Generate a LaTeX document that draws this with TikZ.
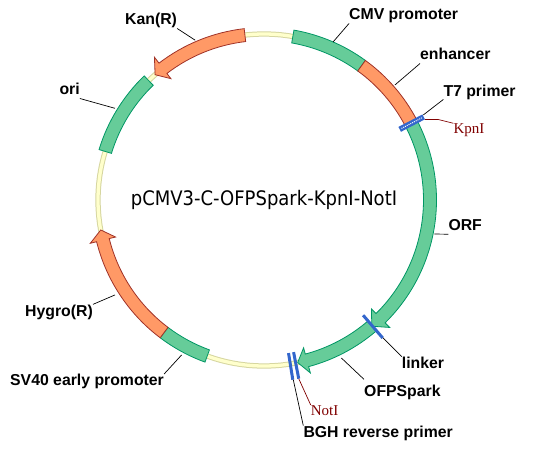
\documentclass[tikz,border=0pt]{standalone}
\usepackage{fontspec}
\usepackage{xcolor}
\usepackage{tikz}
\setmainfont{Liberation Sans}
\newfontfamily\sitefont{Liberation Serif}
\newfontfamily\titlefont{DejaVu Sans}[FakeStretch=0.9]

\definecolor{cdsgreen}{RGB}{102,204,153}
\definecolor{cdsgreenline}{RGB}{0,150,100}
\definecolor{resorange}{RGB}{255,153,102}
\definecolor{resorangeline}{RGB}{160,50,40}
\definecolor{backbonefill}{RGB}{255,255,204}
\definecolor{backboneline}{RGB}{214,214,160}
\definecolor{siteblue}{RGB}{51,102,204}
\definecolor{sitered}{RGB}{128,0,0}

\begin{document}
\begin{tikzpicture}[x=1pt, y=1pt,
    greenbox/.style={fill=cdsgreen, draw=cdsgreenline, line width=0.8pt},
    orangebox/.style={fill=resorange, draw=resorangeline, line width=0.8pt},
    sitemark/.style={draw=siteblue, line width=3pt},
    leader/.style={black, line width=0.7pt},
    siteleader/.style={sitered, line width=0.7pt},
    featlabel/.style={font=\bfseries\fontsize{15.8}{18}\selectfont, inner sep=0pt, text depth=3.3pt, anchor=base west},
    sitelabel/.style={font=\sitefont\fontsize{15}{17}\selectfont, text=sitered, inner sep=0pt, anchor=base west}]

    % page frame
    \useasboundingbox (0,0) rectangle (534,448);

    \begin{scope}[shift={(264,248)}]
        % backbone of the plasmid
        \draw[backboneline, line width=5.3pt] (0,0) circle (166pt);
        \draw[backbonefill, line width=3.3pt] (0,0) circle (166pt);

        % CMV promoter and enhancer
        \filldraw[greenbox] (80:172.5) arc[start angle=80, end angle=54, radius=172.5pt] -- (54:159.5) arc[start angle=54, end angle=80, radius=159.5pt] -- cycle;
        \filldraw[orangebox] (54:172.5) arc[start angle=54, end angle=27.5, radius=172.5pt] -- (27.5:159.5) arc[start angle=27.5, end angle=54, radius=159.5pt] -- cycle;

        % ORF and OFPSpark arrows
        \filldraw[greenbox] (27.5:172.5) arc[start angle=27.5, end angle=-45.4, radius=172.5pt] -- (-45.4:179) -- (-49.5:166) -- (-45.4:153) -- (-45.4:159.5) arc[start angle=-45.4, end angle=27.5, radius=159.5pt] -- cycle;
        \filldraw[greenbox] (-49.5:172.5) arc[start angle=-49.5, end angle=-75, radius=172.5pt] -- (-75:179) -- (-78.3:166) -- (-75:153) -- (-75:159.5) arc[start angle=-75, end angle=-49.5, radius=159.5pt] -- cycle;

        % SV40 early promoter and Hygro(R)
        \filldraw[greenbox] (250:172.5) arc[start angle=250, end angle=233, radius=172.5pt] -- (233:159.5) arc[start angle=233, end angle=250, radius=159.5pt] -- cycle;
        \filldraw[orangebox] (233:172.5) arc[start angle=233, end angle=194, radius=172.5pt] -- (194:179) -- (190.4:166) -- (194:153) -- (194:159.5) arc[start angle=194, end angle=233, radius=159.5pt] -- cycle;

        % ori and Kan(R)
        \filldraw[greenbox] (134:172.5) arc[start angle=134, end angle=163, radius=172.5pt] -- (163:159.5) arc[start angle=163, end angle=134, radius=159.5pt] -- cycle;
        \filldraw[orangebox] (96.6:172.5) arc[start angle=96.6, end angle=127.5, radius=172.5pt] -- (127.5:180) -- (131:166) -- (127.5:153) -- (127.5:159.5) arc[start angle=127.5, end angle=96.6, radius=159.5pt] -- cycle;

        % sites
        \draw[siteblue, line width=5.5pt] (27.5:153) -- (27.5:180);
        \draw[white, line width=1pt, dash pattern=on 1pt off 1pt] (27.5:155) -- (27.5:178);
        \draw[sitemark] (-49.3:152) -- (-49.3:182);
        \draw[sitemark] (-79:155) -- (-79:182);
        \draw[sitemark] (-80.9:155) -- (-80.9:182);

        % leader starts on the ring
        \coordinate (kanpt) at (113.3:174);
        \coordinate (cmvpt) at (66.4:172.4);
        \coordinate (enhpt) at (41.3:174.3);
        \coordinate (t7pt) at (28.1:180.6);
        \coordinate (kpnpt) at (26.6:180);
        \coordinate (orfpt) at (-11.3:173.7);
        \coordinate (linkerpt) at (-49.2:182);
        \coordinate (ofppt) at (-63.9:176);
        \coordinate (notpt) at (-79:182);
        \coordinate (bghpt) at (-80.75:182);
        \coordinate (svpt) at (242:175.5);
        \coordinate (hygpt) at (212.5:176.7);
        \coordinate (oript) at (148.4:175);
    \end{scope}

    % title
    \node[font=\titlefont\fontsize{20}{22}\selectfont, anchor=base] (title) at (264,243) {pCMV3-C-OFPSpark-KpnI-NotI};

    % feature labels
    \node[featlabel] (kan) at (125,423) {Kan(R)};
    \node[featlabel] (cmv) at (349,428) {CMV promoter};
    \node[featlabel] (enh) at (420,388) {enhancer};
    \node[featlabel] (t7) at (443.3,352) {T7 primer};
    \node[featlabel] (orf) at (448.3,217.3) {ORF};
    \node[featlabel] (linker) at (401.7,79.7) {linker};
    \node[featlabel] (ofp) at (364,52) {OFPSpark};
    \node[featlabel] (bgh) at (303.3,10.7) {BGH reverse primer};
    \node[featlabel] (sv) at (10,62.3) {SV40 early promoter};
    \node[featlabel] (hyg) at (25,132) {Hygro(R)};
    \node[featlabel] (ori) at (59.3,353) {ori};
    \node[sitelabel] (kpn) at (453.3,314.7) {KpnI};
    \node[sitelabel] (noti) at (310.7,33) {NotI};

    % leaders
    \draw[leader] (kanpt) -- (kan.south east);
    \draw[leader] (cmvpt) -- (cmv.south west);
    \draw[leader] (enhpt) -- (enh.south west);
    \draw[leader] (t7pt) -- (t7.south west);
    \draw[leader] (orfpt) -- (orf.south west);
    \draw[leader] (linkerpt) -- (linker.north west);
    \draw[leader] (ofppt) -- ([yshift=5pt]ofp.north west);
    \draw[leader] (bghpt) -- (bgh.north west);
    \draw[leader] (svpt) -- (sv.north east);
    \draw[leader] (hygpt) -- (hyg.north east);
    \draw[leader] (oript) -- (ori.south east);
    \draw[siteleader] (kpnpt) -- ++(13,0) -- (kpn.north west);
    \draw[siteleader] (notpt) -- (noti.north west);
\end{tikzpicture}
\end{document}
